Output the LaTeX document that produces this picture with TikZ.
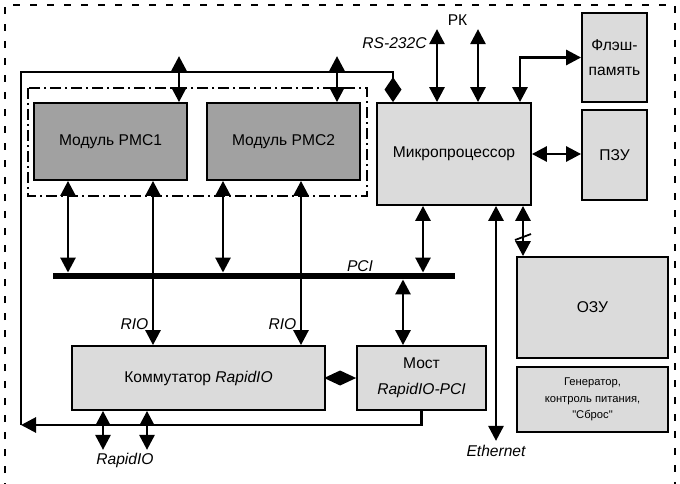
\documentclass[tikz,border=0pt]{standalone}
\usepackage{fontspec}
\setmainfont{Liberation Sans}
\newfontfamily\genfont{Liberation Sans}[Ligatures=TeXOff]
\usetikzlibrary{arrows.meta,calc}

\tikzset{
  block/.style={draw, line width=1.8pt, fill=black!14, align=center, font=\fontsize{15.6}{18}\selectfont},
  pmcbox/.style={block, fill=black!37},
  link/.style={line width=2.8pt, {Triangle[length=15pt,width=15pt]}-{Triangle[length=15pt,width=15pt]}},
  wire/.style={line width=2.8pt},
  lbl/.style={font=\fontsize{15.6}{18}\selectfont\itshape},
  txt/.style={font=\fontsize{15.6}{18}\selectfont},
}

\begin{document}
\begin{tikzpicture}[x=1pt,y=-1pt]
    \useasboundingbox (0,0) rectangle (680,484);
    % Board frame
    \draw[line width=2.6pt, dash pattern=on 7pt off 10pt] (5,490) -- (5,5) -- (675,5) -- (675,490);

    % PMC modules
    \node[pmcbox, minimum width=153pt, minimum height=77pt] (pmc1) at (110.5,141.5) {Модуль PMC1};
    \node[pmcbox, minimum width=153pt, minimum height=77pt] (pmc2) at (283.5,141.5) {Модуль PMC2};
    \draw[line width=1.1pt, dash pattern=on 11pt off 4pt on 2pt off 4pt] (28,88) rectangle (367,196);

    % Processor and memories
    \node[block, minimum width=154pt, minimum height=102pt] (cpu) at (454,154) {Микропроцессор};
    \node[block, minimum width=65pt, minimum height=89pt] (flash) at (614.5,57.5) {Флэш-\\[7pt]память};
    \node[block, minimum width=65pt, minimum height=90pt] (rom) at (614.5,155) {ПЗУ};
    \node[block, minimum width=151pt, minimum height=101pt] (ram) at (592.5,307.5) {ОЗУ};
    \node[block, minimum width=151pt, minimum height=65pt, font=\genfont\fontsize{11.2}{16.5}\selectfont] (gen) at (592.5,399.5)
        {Генератор,\\контроль питания,\\"Сброс"};

    % Switch and bridge
    \node[block, minimum width=253pt, minimum height=64pt] (sw) at (198.5,378) {Коммутатор \textit{RapidIO}};
    \node[block, minimum width=129pt, minimum height=64pt] (bridge) at (421.5,378) {Мост\\[8pt]\textit{RapidIO-PCI}};

    % PCI bus
    \node[fill=black, minimum width=402pt, minimum height=6.5pt, inner sep=0pt] (pci) at (254,276) {};
    \node[lbl, anchor=south, inner sep=1pt] at ([xshift=106pt]pci.north) {PCI};

    % Loop line
    \coordinate (corner) at (21,425);
    \coordinate (top) at (21,72);
    \draw[wire, -{Triangle[length=15pt,width=15pt]}] (bridge.south) |- (corner);
    \draw[wire, -{Diamond[length=25pt,width=17pt]}] (corner) -- (top) -| ([xshift=-61pt]cpu.north);
    \draw[link] ([xshift=68.5pt]pmc1.north) -- ++(0,-46);
    \draw[link] ([xshift=53.5pt]pmc2.north) -- ++(0,-46);

    % PMC links
    \draw[link] ([xshift=-42.5pt]pmc1.south) -- ([xshift=-42.5pt]pmc1.south |- pci.north);
    \draw[link] ([xshift=42.5pt]pmc1.south) -- ([xshift=42.5pt]pmc1.south |- sw.north)
        node[lbl, pos=0.87, left] {RIO};
    \draw[link] ([xshift=-60.5pt]pmc2.south) -- ([xshift=-60.5pt]pmc2.south |- pci.north);
    \draw[link] ([xshift=17.5pt]pmc2.south) -- ([xshift=17.5pt]pmc2.south |- sw.north)
        node[lbl, pos=0.87, left] {RIO};

    % Processor links
    \draw[link] ([xshift=-17pt]cpu.north) -- ++(0,-73) coordinate (rstop)
        node[lbl, anchor=north east, xshift=-6pt, yshift=-4pt, inner sep=3pt] {RS-232C};
    \draw[link] ([xshift=24pt]cpu.north) -- ++(0,-73) coordinate (rktop);
    \node[txt, above] at ($(rstop)!0.5!(rktop)$) {РК};
    \draw[link] ([xshift=66pt]cpu.north) |- (flash.west);
    \draw[link] (cpu.east) -- (cpu.east -| rom.west);
    \draw[link] ([xshift=-31pt]cpu.south) -- ([xshift=-31pt]cpu.south |- pci.north);
    \draw[link] ([xshift=42pt]cpu.south) -- ++(0,235) node[lbl, below] {Ethernet};
    \draw[link] ([xshift=69pt]cpu.south) -- coordinate[pos=0.62] (ramtap) ([xshift=69pt]cpu.south |- ram.north);
    \draw[line width=1.8pt] ([shift={(-8pt,-3pt)}]ramtap) -- ([shift={(8pt,3pt)}]ramtap);

    % Switch links
    \draw[link] ([xshift=-18.5pt]bridge.north) -- ([xshift=-18.5pt]bridge.north |- pci.south);
    \draw[wire, -{Diamond[length=32pt,width=15pt]}] (sw.east) -- (bridge.west);
    \draw[link] ([xshift=-95.5pt]sw.south) -- ++(0,39) coordinate (rio1);
    \draw[link] ([xshift=-51.5pt]sw.south) -- ++(0,39) coordinate (rio2);
    \node[lbl, below] at ($(rio1)!0.5!(rio2)$) {RapidIO};
\end{tikzpicture}
\end{document}
